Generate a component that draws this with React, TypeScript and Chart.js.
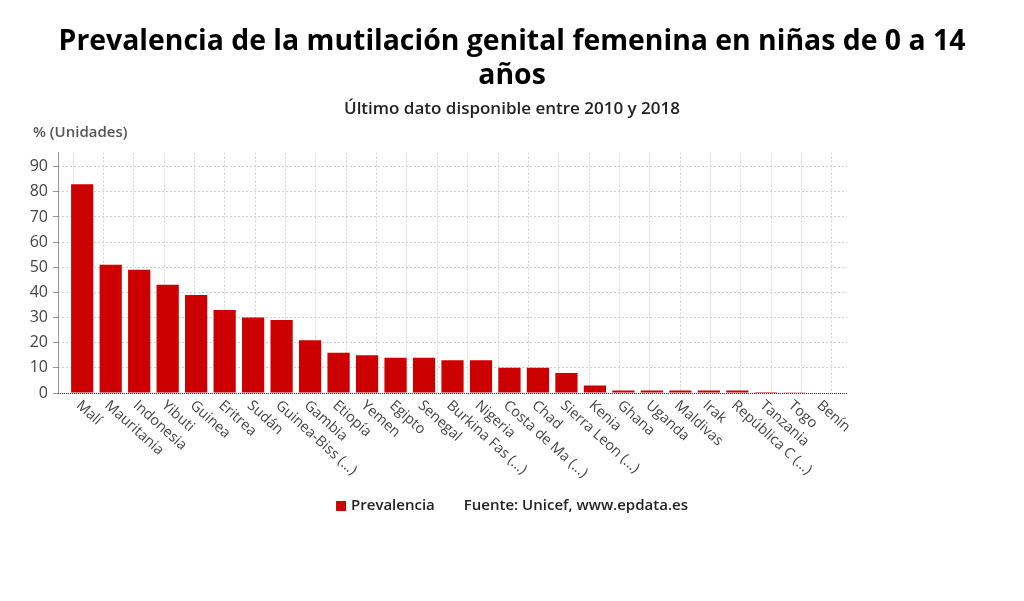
import { useEffect, useRef } from "react"
import { Chart, registerables } from "chart.js"

Chart.register(...registerables)

const countries = [
  "Malí", "Mauritania", "Indonesia", "Yibuti", "Guinea", "Eritrea", "Sudán",
  "Guinea-Biss (...)", "Gambia", "Etiopía", "Yemen", "Egipto", "Senegal",
  "Burkina Fas (...)", "Nigeria", "Costa de Ma (...)", "Chad", "Sierra Leon (...)",
  "Kenia", "Ghana", "Uganda", "Maldivas", "Irak", "República C (...)",
  "Tanzania", "Togo", "Benín",
]

const prevalencia = [
  83, 51, 49, 43, 39, 33, 30, 29, 21, 16, 15, 14, 14, 13, 13, 10, 10, 8,
  3, 1, 1, 1, 1, 1, 0.4, 0.3, 0.2,
]

const yTicks = [0, 10, 20, 30, 40, 50, 60, 70, 80, 90]

const FONT = "'Open Sans', 'Noto Sans', sans-serif"
const RED = "#cc0000"

// rotated country labels, dotted axis lines, unit label and legend/source line
const extrasPlugin = {
  id: "extras",
  afterDraw(chart: any) {
    const { ctx, chartArea } = chart
    const xs = chart.scales.x
    ctx.save()

    // dotted axis lines
    ctx.strokeStyle = "#333"
    ctx.lineWidth = 1
    ctx.setLineDash([1, 1])
    ctx.beginPath()
    ctx.moveTo(chartArea.left + 0.5, chartArea.top)
    ctx.lineTo(chartArea.left + 0.5, chartArea.bottom)
    ctx.moveTo(chartArea.left, chartArea.bottom + 0.5)
    ctx.lineTo(chartArea.right, chartArea.bottom + 0.5)
    ctx.stroke()
    ctx.setLineDash([])

    ctx.fillStyle = "#444"
    ctx.font = `14.5px ${FONT}`
    ctx.textAlign = "left"
    ctx.textBaseline = "top"
    countries.forEach((label, i) => {
      const x = xs.getPixelForValue(i)
      ctx.save()
      ctx.translate(x + 1, chartArea.bottom + 5)
      ctx.rotate((42 * Math.PI) / 180)
      ctx.fillText(label, 0, 0)
      ctx.restore()
    })

    ctx.font = `600 15px ${FONT}`
    ctx.fillStyle = "#555"
    ctx.textBaseline = "middle"
    ctx.fillText("% (Unidades)", 33, 133)

    // legend + source
    const legendY = 506
    const label = chart.data.datasets[0].label
    const source = "Fuente: Unicef, www.epdata.es"
    ctx.font = `600 15px ${FONT}`
    const lw = ctx.measureText(label).width
    const sw = ctx.measureText(source).width
    const total = 10 + 5 + lw + 29 + sw
    const x0 = chart.width / 2 - total / 2
    ctx.fillStyle = RED
    ctx.fillRect(x0, legendY - 5, 10, 10)
    ctx.fillStyle = "#222"
    ctx.fillText(label, x0 + 15, legendY)
    ctx.fillText(source, x0 + 15 + lw + 29, legendY)
    ctx.restore()
  },
}

export default function App() {
  const chartRef = useRef<HTMLCanvasElement>(null)
  const chartInstance = useRef<Chart | null>(null)

  useEffect(() => {
    document.body.style.margin = "0"
    if (!chartRef.current) return
    if (chartInstance.current) chartInstance.current.destroy()
    const ctx = chartRef.current.getContext("2d")
    if (!ctx) return

    const config: any = {
      type: "bar",
      data: {
        datasets: [
          {
            label: "Prevalencia",
            data: prevalencia.map((v, i) => ({ x: i, y: v })),
            backgroundColor: RED,
            barPercentage: 0.78,
            categoryPercentage: 1,
          },
        ],
      },
      plugins: [extrasPlugin],
      options: {
        responsive: true,
        maintainAspectRatio: false,
        animation: false,
        layout: { padding: 0 },
        plugins: {
          legend: { display: false },
          tooltip: { enabled: false },
          title: {
            display: true,
            text: ["Prevalencia de la mutilación genital femenina en niñas de 0 a 14", "años"],
            color: "#000",
            font: { family: FONT, size: 28.4, weight: "bold", lineHeight: 1.2 },
            padding: { top: 25, bottom: 6 },
          },
          subtitle: {
            display: true,
            text: "Último dato disponible entre 2010 y 2018",
            color: "#222",
            font: { family: FONT, size: 17, weight: "600", lineHeight: 1.2 },
            padding: { top: 0, bottom: 33 },
          },
        },
        scales: {
          x: {
            type: "linear",
            position: "bottom",
            weight: 1,
            offset: false,
            min: -0.85,
            max: 26.85,
            grid: { display: false },
            border: { display: false },
            ticks: { display: false },
            afterFit(scale: any) {
              scale.height = 208
            },
          },
          xg: {
            type: "linear",
            position: "bottom",
            weight: 2,
            offset: false,
            min: 0,
            max: 26,
            grid: { color: "#d2d2d2", drawTicks: false, lineWidth: 1 },
            border: { display: false, dash: [2, 2] },
            ticks: { display: false, stepSize: 1 },
            afterFit(scale: any) {
              scale.height = 0
            },
          },
          y: {
            type: "linear",
            min: 0,
            max: 95.6,
            afterBuildTicks(scale: any) {
              scale.ticks = yTicks.map((v) => ({ value: v }))
            },
            afterFit(scale: any) {
              scale.width = 58
            },
            grid: { color: "#cfcfcf", tickLength: 5, tickColor: "#999", lineWidth: 1 },
            border: { display: false, dash: [2, 2] },
            ticks: {
              color: "#444",
              padding: 5,
              font: { family: FONT, size: 16 },
            },
          },
          yr: {
            type: "linear",
            position: "right",
            display: true,
            grid: { display: false },
            border: { display: false },
            ticks: { display: false },
            afterFit(scale: any) {
              scale.width = 177
            },
          },
        },
      },
    }

    chartInstance.current = new Chart(ctx, config)

    return () => {
      if (chartInstance.current) chartInstance.current.destroy()
    }
  }, [])

  return (
    <div style={{ width: 1024, height: 601, position: "relative", background: "#fff" }}>
      <canvas ref={chartRef} />
    </div>
  )
}
